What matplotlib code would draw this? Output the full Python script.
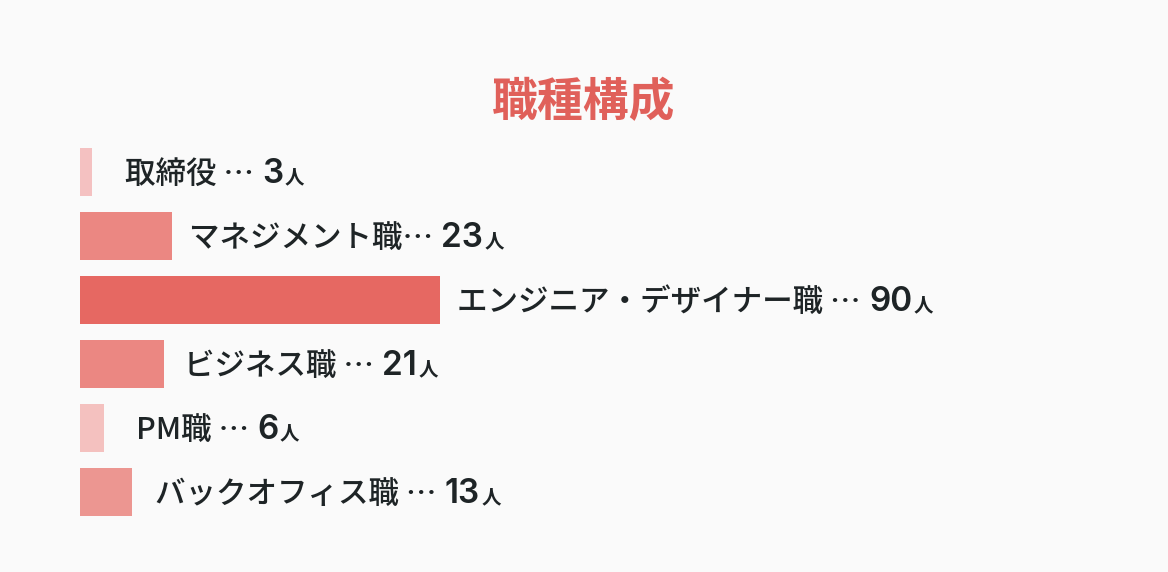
import matplotlib
matplotlib.use("Agg")
import matplotlib.pyplot as plt
from matplotlib.offsetbox import TextArea, HPacker, AnnotationBbox

plt.rcParams['font.family'] = ['Noto Sans CJK JP', 'DejaVu Sans']

# data
roles = ['取締役 …', 'マネジメント職…', 'エンジニア・デザイナー職 …', 'ビジネス職 …', 'PM職 …', 'バックオフィス職 …']
counts = [3, 23, 90, 21, 6, 13]
colors = ['#F4C1C1', '#EB8782', '#E66862', '#EB8782', '#F4C1BF', '#EC9691']
title = '職種構成'
unit = '人'

# gap between bar end and label (pixels)
label_pad_px = [33, 17, 17, 20, 32, 23]

W, H = 1168, 572
fig = plt.figure(figsize=(W / 100, H / 100), dpi=100)
fig.patch.set_facecolor('#FAFAFA')

# axes: left 80px, rows of 64px from y=140 to y=524
ax = fig.add_axes([80 / W, (H - 524) / H, (W - 80) / W, 384 / H])
ax.set_facecolor('#FAFAFA')
ax.set_xlim(0, (W - 80) / 4)
ax.set_ylim(len(counts) - 0.5, -0.5)
ax.axis('off')

ypos = list(range(len(counts)))
ax.barh(ypos, counts, height=0.75, color=colors, linewidth=0)

txt = '#1E2426'
for i, (r, c) in enumerate(zip(roles, counts)):
    parts = [
        TextArea(r + ' ', textprops=dict(fontsize=22, color=txt, fontweight='medium')),
        TextArea(str(c), textprops=dict(fontsize=24, color=txt, fontweight='semibold',
                                        family=['Inter', 'DejaVu Sans'])),
        TextArea(unit, textprops=dict(fontsize=14, color=txt, fontweight='bold')),
    ]
    pack = HPacker(children=parts, align='baseline', pad=0, sep=1)
    ab = AnnotationBbox(pack, (c, i), xybox=(label_pad_px[i] * 0.72, -1.5),
                        xycoords='data', boxcoords='offset points',
                        box_alignment=(0, 0.5), frameon=False, pad=0)
    ax.add_artist(ab)

fig.text(0.5, (H - 103) / H, title, ha='center', va='center',
         fontsize=33, fontweight='bold', color='#E0605A')

fig.savefig('out.png', dpi=100, facecolor=fig.get_facecolor())
